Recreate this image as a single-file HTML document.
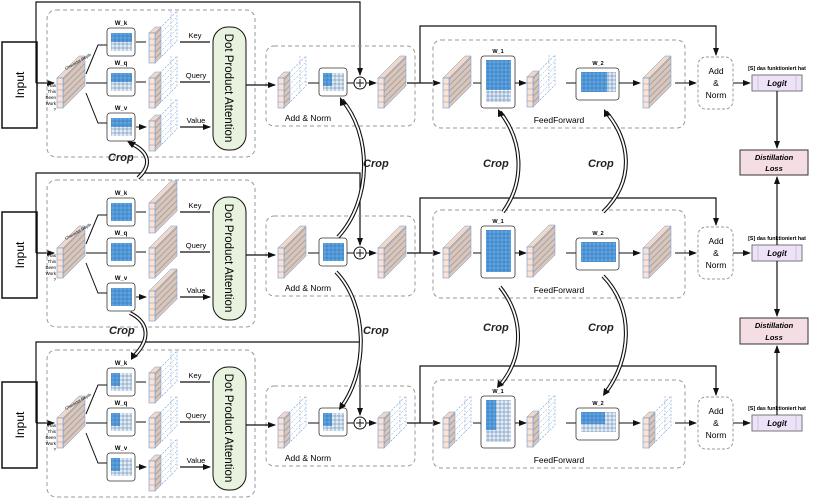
<!DOCTYPE html>
<html><head><meta charset="utf-8"><style>
html,body{margin:0;padding:0;background:#fff;}
svg{display:block;font-family:"Liberation Sans",sans-serif;}
</style></head><body>
<svg width="814" height="500" viewBox="0 0 814 500" xmlns="http://www.w3.org/2000/svg">
<defs>
<marker id="ah" markerWidth="8" markerHeight="8" refX="7" refY="4" orient="auto" markerUnits="userSpaceOnUse"><path d="M0,1 L8,4 L0,7 z" fill="#111"/></marker>
<marker id="ah2" markerWidth="10" markerHeight="10" refX="6" refY="5" orient="auto" markerUnits="userSpaceOnUse"><path d="M0,0 L9,5 L0,10 z" fill="#111"/></marker>
<pattern id="stripe" width="20" height="6" patternUnits="userSpaceOnUse" patternTransform="skewY(-45)"><rect width="20" height="6" fill="#d9c5ba"/><line x1="0" y1="5.5" x2="20" y2="5.5" stroke="#7c8796" stroke-width="0.8"/></pattern>
<pattern id="grid" width="4" height="4" patternUnits="userSpaceOnUse"><rect width="4" height="4" fill="none" stroke="#2f5f8f" stroke-width="0.4"/></pattern>
<g id="slab">
<polygon points="0,22 6,22 28,0 22,0" fill="#f0d7c6" stroke="#6f9bd0" stroke-width="0.5"/>
<polygon points="6,22 28,0 28,30 6,52" fill="url(#stripe)" stroke="#6f9bd0" stroke-width="0.5"/>
<rect x="0" y="22" width="6" height="30" fill="#fbe2d2" stroke="#6f9bd0" stroke-width="0.6"/>
<path d="M0,28H6M0,34H6M0,40H6M0,46H6" stroke="#6f9bd0" stroke-width="0.5"/>
</g>
<g id="slabD">
<polygon points="6,22 28,0 28,30 6,52" fill="none" stroke="#6f9bd0" stroke-width="0.6" stroke-dasharray="2 1.5"/>
<path d="M6,28 L28,6 M6,34 L28,12 M6,40 L28,18 M6,46 L28,24 M22,0 L22,36" stroke="#6f9bd0" stroke-width="0.5" stroke-dasharray="2 1.5" fill="none"/>
<polygon points="0,22 6,22 12,16 6,16" fill="#f0d7c6" stroke="#6f9bd0" stroke-width="0.5"/>
<polygon points="6,22 12,16 12,46 6,52" fill="url(#stripe)" stroke="#6f9bd0" stroke-width="0.5"/>
<rect x="0" y="22" width="6" height="30" fill="#fbe2d2" stroke="#6f9bd0" stroke-width="0.6"/>
<path d="M0,28H6M0,34H6M0,40H6M0,46H6" stroke="#6f9bd0" stroke-width="0.5"/>
</g>
<g id="matF">
<rect x="0" y="0" width="28" height="28" rx="3" fill="#fff" stroke="#333" stroke-width="0.8"/>
<rect x="4" y="5" width="21" height="18" fill="#5aa4e6"/><rect x="4" y="5" width="21" height="18" fill="url(#grid)"/>
</g>
<g id="matH">
<rect x="0" y="0" width="28" height="28" rx="3" fill="#fff" stroke="#333" stroke-width="0.8"/>
<rect x="4" y="5" width="21" height="18" fill="#e3edf8"/><rect x="4" y="5" width="21" height="9" fill="#5aa4e6"/><rect x="4" y="5" width="21" height="18" fill="url(#grid)"/>
</g>
<g id="matQ">
<rect x="0" y="0" width="28" height="28" rx="3" fill="#fff" stroke="#333" stroke-width="0.8"/>
<rect x="4" y="5" width="21" height="18" fill="#e3edf8"/><rect x="4" y="5" width="9" height="13" fill="#5aa4e6"/><rect x="4" y="5" width="21" height="18" fill="url(#grid)"/>
</g>
</defs>
<rect width="814" height="500" fill="#fff"/>

<!-- ROW 1 -->
<g>
<rect x="2" y="42" width="35" height="86" fill="#fff" stroke="#111" stroke-width="1.5"/>
<text x="0" y="0" transform="translate(24,85) rotate(-90)" text-anchor="middle" font-size="12">Input</text>
<path d="M36,83 V2 H360 V75" fill="none" stroke="#111" stroke-width="1.2" marker-end="url(#ah)"/>
<path d="M36,83 H54" stroke="#111" stroke-width="1.2" marker-end="url(#ah)"/>
<rect x="47" y="10" width="208" height="147" rx="9" fill="none" stroke="#999" stroke-dasharray="4 3"/>
<use href="#slab" x="57" y="56"/>
<g font-size="4.5" text-anchor="end"><text x="56" y="87">Has</text><text x="56" y="93">This</text><text x="56" y="99">Been</text><text x="56" y="105">Work</text><text x="56" y="111">?</text></g>
<text x="0" y="0" transform="translate(66,70) rotate(-30)" font-size="4">Character Depth</text>
<path d="M86,74 L98,45 H107 M86,83 H107 M86,93 L98,123 H107" fill="none" stroke="#111" stroke-width="1"/>
<text x="121" y="25" text-anchor="middle" font-size="6" font-weight="bold">W_k</text>
<text x="121" y="65" text-anchor="middle" font-size="6" font-weight="bold">W_q</text>
<text x="121" y="110" text-anchor="middle" font-size="6" font-weight="bold">W_v</text>
<use href="#matH" x="107" y="28"/><use href="#matH" x="107" y="68"/><use href="#matH" x="107" y="113"/>
<path d="M136,42 H146 M136,82 H146 M136,127 H146" stroke="#111" marker-end="url(#ah)"/>
<use href="#slabD" x="149" y="11"/><use href="#slabD" x="149" y="56"/><use href="#slabD" x="149" y="99"/>
<path d="M180,42 H210 M180,82 H210 M180,127 H210" stroke="#111" stroke-width="1.2" marker-end="url(#ah)"/>
<g font-size="7.5" text-anchor="middle"><text x="195" y="38">Key</text><text x="196" y="78">Query</text><text x="196" y="123">Value</text></g>
<rect x="213" y="27" width="33" height="123" rx="15" fill="#e8f3df" stroke="#111"/>
<text x="0" y="0" transform="translate(225,88) rotate(90)" text-anchor="middle" font-size="11.5">Dot Product Attention</text>
<rect x="266" y="46" width="149" height="80" rx="8" fill="none" stroke="#999" stroke-dasharray="4 3"/>
<path d="M246,85 H275" stroke="#111" stroke-width="1.2" marker-end="url(#ah)"/>
<use href="#slabD" x="278" y="56"/>
<path d="M308,83 H319" stroke="#111"/>
<use href="#matQ" x="319" y="68"/>
<path d="M347,83 H354" stroke="#111"/>
<circle cx="360" cy="83" r="6" fill="#fff" stroke="#111"/><path d="M356,83H364M360,79V87" stroke="#111"/>
<path d="M366,83 H376" stroke="#111" marker-end="url(#ah)"/>
<use href="#slab" x="378" y="56"/>
<text x="308" y="121" text-anchor="middle" font-size="8.5">Add &amp; Norm</text>
<path d="M407,83 H440" stroke="#111" stroke-width="1.2" marker-end="url(#ah)"/>
<path d="M420,83 V26 H716 V55" fill="none" stroke="#111" stroke-width="1.2" marker-end="url(#ah)"/>
<rect x="433" y="40" width="252" height="88" rx="8" fill="none" stroke="#999" stroke-dasharray="4 3"/>
<use href="#slab" x="443" y="56"/>
<path d="M473,83 H481" stroke="#111"/>
<text x="498" y="53" text-anchor="middle" font-size="5.5" font-weight="bold">W_1</text>
<rect x="481" y="56" width="34" height="52" rx="3" fill="#fff" stroke="#333" stroke-width="0.8"/>
<rect x="486" y="60" width="25" height="30" fill="#5aa4e6"/><rect x="486" y="91" width="25" height="11" fill="#dce8f5"/><rect x="486" y="60" width="25" height="42" fill="url(#grid)"/>
<path d="M515,83 H526" stroke="#111" marker-end="url(#ah)"/>
<use href="#slabD" x="527" y="55"/>
<path d="M566,83 H577" stroke="#111"/>
<text x="598" y="65" text-anchor="middle" font-size="5.5" font-weight="bold">W_2</text>
<rect x="576" y="68" width="43" height="32" rx="3" fill="#fff" stroke="#333" stroke-width="0.8"/>
<rect x="581" y="72" width="26" height="20" fill="#5aa4e6"/><rect x="607" y="72" width="9" height="20" fill="#dce8f5"/><rect x="581" y="72" width="35" height="20" fill="url(#grid)"/>
<path d="M619,83 H640" stroke="#111" marker-end="url(#ah)"/>
<use href="#slab" x="643" y="56"/>
<text x="559" y="123" text-anchor="middle" font-size="8.5">FeedForward</text>
<path d="M675,83 H696" stroke="#111" marker-end="url(#ah)"/>
<rect x="698" y="57" width="35" height="52" rx="8" fill="#fff" stroke="#999" stroke-dasharray="3 2"/>
<g font-size="8.5" text-anchor="middle"><text x="716" y="74">Add</text><text x="716" y="86">&amp;</text><text x="716" y="98">Norm</text></g>
<path d="M733,83 H750" stroke="#111" marker-end="url(#ah)"/>
<text x="777" y="70" text-anchor="middle" font-size="5.3" font-weight="bold">[S] das funktioniert hat</text>
<rect x="752" y="75" width="50" height="16" fill="#eee2f8" stroke="#777"/>
<path d="M758,75V91M796,75V91" stroke="#aaa" stroke-width="0.5"/>
<text x="777" y="86" text-anchor="middle" font-size="8" font-weight="bold" font-style="italic">Logit</text>
</g>

<!-- ROW 2 -->
<g transform="translate(0,170)">
<rect x="2" y="42" width="35" height="86" fill="#fff" stroke="#111" stroke-width="1.5"/>
<text x="0" y="0" transform="translate(24,85) rotate(-90)" text-anchor="middle" font-size="12">Input</text>
<path d="M36,83 V3 H360 V75" fill="none" stroke="#111" stroke-width="1.2" marker-end="url(#ah)"/>
<path d="M36,83 H54" stroke="#111" stroke-width="1.2" marker-end="url(#ah)"/>
<rect x="47" y="10" width="208" height="147" rx="9" fill="none" stroke="#999" stroke-dasharray="4 3"/>
<use href="#slab" x="57" y="56"/>
<g font-size="4.5" text-anchor="end"><text x="56" y="87">Has</text><text x="56" y="93">This</text><text x="56" y="99">Been</text><text x="56" y="105">Work</text><text x="56" y="111">?</text></g>
<text x="0" y="0" transform="translate(66,70) rotate(-30)" font-size="4">Character Depth</text>
<path d="M86,74 L98,45 H107 M86,83 H107 M86,93 L98,123 H107" fill="none" stroke="#111" stroke-width="1"/>
<text x="121" y="25" text-anchor="middle" font-size="6" font-weight="bold">W_k</text>
<text x="121" y="65" text-anchor="middle" font-size="6" font-weight="bold">W_q</text>
<text x="121" y="110" text-anchor="middle" font-size="6" font-weight="bold">W_v</text>
<use href="#matF" x="107" y="28"/><use href="#matF" x="107" y="68"/><use href="#matF" x="107" y="113"/>
<path d="M136,42 H146 M136,82 H146 M136,127 H146" stroke="#111" marker-end="url(#ah)"/>
<use href="#slab" x="149" y="11"/><use href="#slab" x="149" y="56"/><use href="#slab" x="149" y="99"/>
<path d="M180,42 H210 M180,82 H210 M180,127 H210" stroke="#111" stroke-width="1.2" marker-end="url(#ah)"/>
<g font-size="7.5" text-anchor="middle"><text x="195" y="38">Key</text><text x="196" y="78">Query</text><text x="196" y="123">Value</text></g>
<rect x="213" y="27" width="33" height="123" rx="15" fill="#e8f3df" stroke="#111"/>
<text x="0" y="0" transform="translate(225,88) rotate(90)" text-anchor="middle" font-size="11.5">Dot Product Attention</text>
<rect x="266" y="46" width="149" height="80" rx="8" fill="none" stroke="#999" stroke-dasharray="4 3"/>
<path d="M246,85 H275" stroke="#111" stroke-width="1.2" marker-end="url(#ah)"/>
<use href="#slab" x="278" y="56"/>
<path d="M308,83 H319" stroke="#111"/>
<use href="#matF" x="319" y="68"/>
<path d="M347,83 H354" stroke="#111"/>
<circle cx="360" cy="83" r="6" fill="#fff" stroke="#111"/><path d="M356,83H364M360,79V87" stroke="#111"/>
<path d="M366,83 H376" stroke="#111" marker-end="url(#ah)"/>
<use href="#slab" x="378" y="56"/>
<text x="308" y="121" text-anchor="middle" font-size="8.5">Add &amp; Norm</text>
<path d="M407,83 H440" stroke="#111" stroke-width="1.2" marker-end="url(#ah)"/>
<path d="M420,83 V28 H716 V55" fill="none" stroke="#111" stroke-width="1.2" marker-end="url(#ah)"/>
<rect x="433" y="40" width="252" height="88" rx="8" fill="none" stroke="#999" stroke-dasharray="4 3"/>
<use href="#slab" x="443" y="56"/>
<path d="M473,83 H481" stroke="#111"/>
<text x="498" y="53" text-anchor="middle" font-size="5.5" font-weight="bold">W_1</text>
<rect x="481" y="56" width="34" height="52" rx="3" fill="#fff" stroke="#333" stroke-width="0.8"/>
<rect x="486" y="60" width="25" height="42" fill="#5aa4e6"/><rect x="486" y="60" width="25" height="42" fill="url(#grid)"/>
<path d="M515,83 H526" stroke="#111" marker-end="url(#ah)"/>
<use href="#slab" x="527" y="55"/>
<path d="M566,83 H577" stroke="#111"/>
<text x="598" y="65" text-anchor="middle" font-size="5.5" font-weight="bold">W_2</text>
<rect x="576" y="68" width="43" height="32" rx="3" fill="#fff" stroke="#333" stroke-width="0.8"/>
<rect x="581" y="72" width="35" height="20" fill="#5aa4e6"/><rect x="581" y="72" width="35" height="20" fill="url(#grid)"/>
<path d="M619,83 H640" stroke="#111" marker-end="url(#ah)"/>
<use href="#slab" x="643" y="56"/>
<text x="559" y="123" text-anchor="middle" font-size="8.5">FeedForward</text>
<path d="M675,83 H696" stroke="#111" marker-end="url(#ah)"/>
<rect x="698" y="57" width="35" height="52" rx="8" fill="#fff" stroke="#999" stroke-dasharray="3 2"/>
<g font-size="8.5" text-anchor="middle"><text x="716" y="74">Add</text><text x="716" y="86">&amp;</text><text x="716" y="98">Norm</text></g>
<path d="M733,83 H750" stroke="#111" marker-end="url(#ah)"/>
<text x="777" y="70" text-anchor="middle" font-size="5.3" font-weight="bold">[S] das funktioniert hat</text>
<rect x="752" y="75" width="50" height="16" fill="#eee2f8" stroke="#777"/>
<path d="M758,75V91M796,75V91" stroke="#aaa" stroke-width="0.5"/>
<text x="777" y="86" text-anchor="middle" font-size="8" font-weight="bold" font-style="italic">Logit</text>
</g>

<!-- ROW 3 -->
<g transform="translate(0,340)">
<rect x="2" y="42" width="35" height="86" fill="#fff" stroke="#111" stroke-width="1.5"/>
<text x="0" y="0" transform="translate(24,85) rotate(-90)" text-anchor="middle" font-size="12">Input</text>
<path d="M36,83 V2 H360 V75" fill="none" stroke="#111" stroke-width="1.2" marker-end="url(#ah)"/>
<path d="M36,83 H54" stroke="#111" stroke-width="1.2" marker-end="url(#ah)"/>
<rect x="47" y="10" width="208" height="147" rx="9" fill="none" stroke="#999" stroke-dasharray="4 3"/>
<use href="#slab" x="57" y="56"/>
<g font-size="4.5" text-anchor="end"><text x="56" y="87">Has</text><text x="56" y="93">This</text><text x="56" y="99">Been</text><text x="56" y="105">Work</text><text x="56" y="111">?</text></g>
<text x="0" y="0" transform="translate(66,70) rotate(-30)" font-size="4">Character Depth</text>
<path d="M86,74 L98,45 H107 M86,83 H107 M86,93 L98,123 H107" fill="none" stroke="#111" stroke-width="1"/>
<text x="121" y="25" text-anchor="middle" font-size="6" font-weight="bold">W_k</text>
<text x="121" y="65" text-anchor="middle" font-size="6" font-weight="bold">W_q</text>
<text x="121" y="110" text-anchor="middle" font-size="6" font-weight="bold">W_v</text>
<use href="#matQ" x="107" y="28"/><use href="#matQ" x="107" y="68"/><use href="#matQ" x="107" y="113"/>
<path d="M136,42 H146 M136,82 H146 M136,127 H146" stroke="#111" marker-end="url(#ah)"/>
<use href="#slabD" x="149" y="11"/><use href="#slabD" x="149" y="56"/><use href="#slabD" x="149" y="99"/>
<path d="M180,42 H210 M180,82 H210 M180,127 H210" stroke="#111" stroke-width="1.2" marker-end="url(#ah)"/>
<g font-size="7.5" text-anchor="middle"><text x="195" y="38">Key</text><text x="196" y="78">Query</text><text x="196" y="123">Value</text></g>
<rect x="213" y="27" width="33" height="123" rx="15" fill="#e8f3df" stroke="#111"/>
<text x="0" y="0" transform="translate(225,88) rotate(90)" text-anchor="middle" font-size="11.5">Dot Product Attention</text>
<rect x="266" y="46" width="149" height="80" rx="8" fill="none" stroke="#999" stroke-dasharray="4 3"/>
<path d="M246,85 H275" stroke="#111" stroke-width="1.2" marker-end="url(#ah)"/>
<use href="#slabD" x="278" y="56"/>
<path d="M308,83 H319" stroke="#111"/>
<use href="#matQ" x="319" y="68"/>
<path d="M347,83 H354" stroke="#111"/>
<circle cx="360" cy="83" r="6" fill="#fff" stroke="#111"/><path d="M356,83H364M360,79V87" stroke="#111"/>
<path d="M366,83 H376" stroke="#111" marker-end="url(#ah)"/>
<use href="#slabD" x="378" y="56"/>
<text x="308" y="121" text-anchor="middle" font-size="8.5">Add &amp; Norm</text>
<path d="M407,83 H440" stroke="#111" stroke-width="1.2" marker-end="url(#ah)"/>
<path d="M420,83 V26 H716 V55" fill="none" stroke="#111" stroke-width="1.2" marker-end="url(#ah)"/>
<rect x="433" y="40" width="252" height="88" rx="8" fill="none" stroke="#999" stroke-dasharray="4 3"/>
<use href="#slabD" x="443" y="56"/>
<path d="M473,83 H481" stroke="#111"/>
<text x="498" y="53" text-anchor="middle" font-size="5.5" font-weight="bold">W_1</text>
<rect x="481" y="56" width="34" height="52" rx="3" fill="#fff" stroke="#333" stroke-width="0.8"/>
<rect x="486" y="60" width="25" height="42" fill="#e3edf8"/><rect x="486" y="60" width="10" height="30" fill="#5aa4e6"/><rect x="486" y="60" width="25" height="42" fill="url(#grid)"/>
<path d="M515,83 H526" stroke="#111" marker-end="url(#ah)"/>
<use href="#slabD" x="527" y="55"/>
<path d="M566,83 H577" stroke="#111"/>
<text x="598" y="65" text-anchor="middle" font-size="5.5" font-weight="bold">W_2</text>
<rect x="576" y="68" width="43" height="32" rx="3" fill="#fff" stroke="#333" stroke-width="0.8"/>
<rect x="581" y="72" width="35" height="20" fill="#e3edf8"/><rect x="581" y="72" width="24" height="12" fill="#5aa4e6"/><rect x="581" y="72" width="35" height="20" fill="url(#grid)"/>
<path d="M619,83 H640" stroke="#111" marker-end="url(#ah)"/>
<use href="#slabD" x="643" y="56"/>
<text x="559" y="123" text-anchor="middle" font-size="8.5">FeedForward</text>
<path d="M675,83 H696" stroke="#111" marker-end="url(#ah)"/>
<rect x="698" y="57" width="35" height="52" rx="8" fill="#fff" stroke="#999" stroke-dasharray="3 2"/>
<g font-size="8.5" text-anchor="middle"><text x="716" y="74">Add</text><text x="716" y="86">&amp;</text><text x="716" y="98">Norm</text></g>
<path d="M733,83 H750" stroke="#111" marker-end="url(#ah)"/>
<text x="777" y="70" text-anchor="middle" font-size="5.3" font-weight="bold">[S] das funktioniert hat</text>
<rect x="752" y="75" width="50" height="16" fill="#eee2f8" stroke="#777"/>
<path d="M758,75V91M796,75V91" stroke="#aaa" stroke-width="0.5"/>
<text x="777" y="86" text-anchor="middle" font-size="8" font-weight="bold" font-style="italic">Logit</text>
</g>

<!-- Distillation -->
<rect x="740" y="150" width="68" height="25" fill="#f5dde4" stroke="#333"/>
<text x="774" y="160" text-anchor="middle" font-size="7.5" font-weight="bold" font-style="italic">Distillation</text>
<text x="774" y="171" text-anchor="middle" font-size="7.5" font-weight="bold" font-style="italic">Loss</text>
<rect x="740" y="318" width="68" height="26" fill="#f5dde4" stroke="#333"/>
<text x="774" y="328" text-anchor="middle" font-size="7.5" font-weight="bold" font-style="italic">Distillation</text>
<text x="774" y="340" text-anchor="middle" font-size="7.5" font-weight="bold" font-style="italic">Loss</text>
<g stroke="#111" stroke-width="1.2" marker-end="url(#ah)">
<path d="M777,91 V148"/><path d="M777,245 V177"/><path d="M777,261 V316"/><path d="M777,415 V346"/>
</g>

<!-- Crop arrows -->
<g fill="none">
<g stroke="#111" stroke-width="4">
<path d="M138,178 C152,165 150,152 130,143"/>
<path d="M338,237 C372,200 372,135 342,100"/>
<path d="M503,212 C526,180 522,140 500,112"/>
<path d="M603,212 C636,180 630,140 606,112"/>
<path d="M130,313 C150,323 150,340 134,356"/>
<path d="M336,272 C368,305 368,370 342,406"/>
<path d="M500,287 C526,320 522,360 500,385"/>
<path d="M603,276 C636,310 630,360 606,392"/>
</g>
<g stroke="#fff" stroke-width="1.8">
<path d="M138,178 C152,165 150,152 130,143"/>
<path d="M338,237 C372,200 372,135 342,100"/>
<path d="M503,212 C526,180 522,140 500,112"/>
<path d="M603,212 C636,180 630,140 606,112"/>
<path d="M130,313 C150,323 150,340 134,356"/>
<path d="M336,272 C368,305 368,370 342,406"/>
<path d="M500,287 C526,320 522,360 500,385"/>
<path d="M603,276 C636,310 630,360 606,392"/>
</g>
</g>
<g fill="#111">
<polygon points="127,141 136,142 132,148"/>
<polygon points="340,97 347,104 340,106"/>
<polygon points="498,109 505,115 498,117"/>
<polygon points="604,109 611,115 604,117"/>
<polygon points="131,360 131,352 138,356"/>
<polygon points="339,410 340,402 346,406"/>
<polygon points="497,388 498,380 504,385"/>
<polygon points="603,396 604,388 610,392"/>
</g>
<g font-size="11" font-weight="bold" font-style="italic" fill="#222">
<text x="108" y="161">Crop</text><text x="363" y="167">Crop</text><text x="483" y="167">Crop</text><text x="588" y="167">Crop</text>
<text x="109" y="334">Crop</text><text x="363" y="334">Crop</text><text x="483" y="331">Crop</text><text x="588" y="331">Crop</text>
</g>
</svg>
</body></html>
